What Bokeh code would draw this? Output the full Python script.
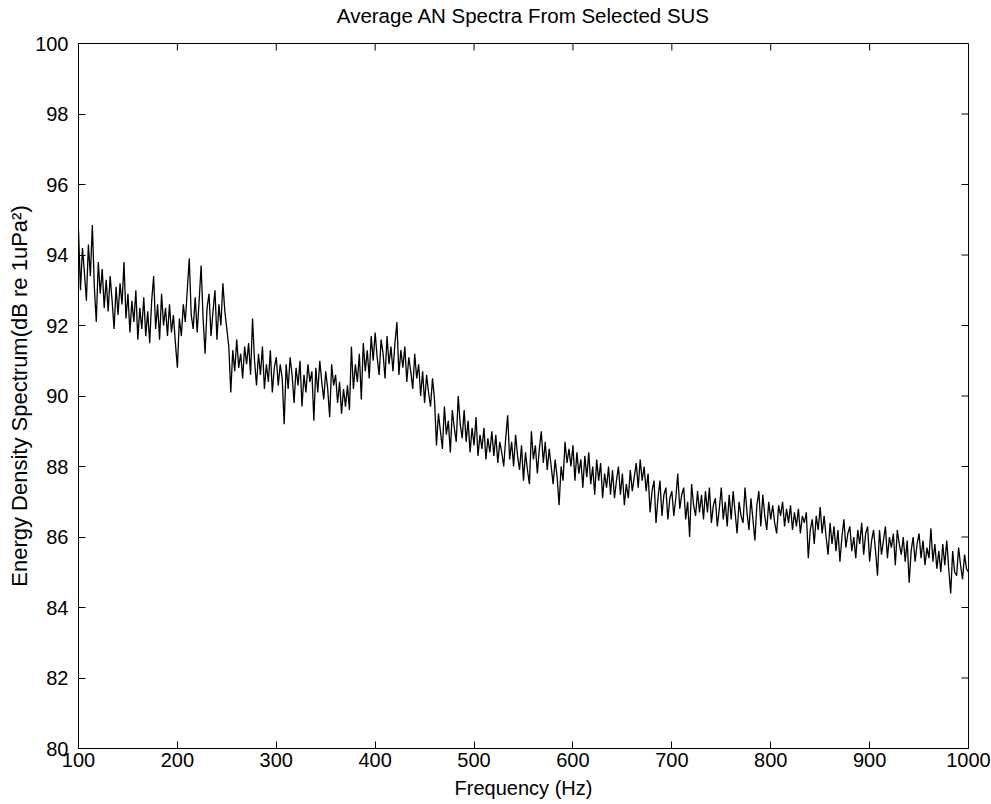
from bokeh.plotting import figure
from bokeh.models import FixedTicker, Range1d
from bokeh.embed import file_html
from bokeh.resources import INLINE

# ---- data (2 Hz steps) ----
freq_hz = list(range(100, 1001, 2))
energy_db = [
    94.7, 93.0, 94.2, 93.5, 92.7, 94.3, 93.4, 94.85, 93.1, 92.1, 93.8, 92.9, 93.6, 92.5, 93.3,
    92.4, 93.4, 92.7, 91.9, 93.1, 92.3, 93.2, 92.6, 93.8, 92.2, 92.9, 91.8, 92.7, 92.1, 93.0,
    91.6, 92.5, 91.9, 92.8, 91.7, 92.4, 91.5, 92.7, 93.4, 91.9, 92.6, 91.6, 92.9, 92.0, 92.5,
    91.7, 92.6, 91.8, 92.3, 91.5, 90.8, 92.2, 91.7, 92.6, 92.1, 93.0, 93.9, 92.3, 91.9, 92.8,
    91.8, 92.7, 93.7, 92.2, 91.2, 92.5, 92.9, 91.7, 92.4, 93.0, 91.6, 92.6, 92.0, 93.2, 92.4,
    91.9, 91.4, 90.1, 91.3, 90.7, 91.6, 90.8, 91.2, 90.5, 91.4, 90.9, 91.5, 90.6, 92.2, 91.0,
    90.3, 91.2, 90.6, 91.4, 90.2, 90.9, 90.4, 91.3, 90.1, 90.8, 91.1, 90.3, 90.9, 90.5, 89.2,
    90.9, 90.2, 91.1, 90.6, 89.8, 90.8, 90.3, 91.0, 89.7, 90.6, 90.1, 90.9, 90.4, 90.7, 89.3,
    90.8, 90.1, 91.0, 90.4, 89.9, 90.7, 90.2, 89.4, 90.9, 90.3, 90.6, 89.8, 90.4, 89.5, 90.2,
    89.7, 90.3, 89.6, 91.4, 90.2, 90.9, 90.4, 91.2, 89.9, 91.5, 90.7, 91.3, 90.5, 91.7, 91.0,
    91.8, 91.1, 90.6, 91.6, 91.2, 90.5, 91.7, 90.9, 91.4, 90.7, 91.5, 92.1, 90.6, 91.3, 90.8,
    91.4, 90.4, 91.1, 90.7, 90.2, 91.2, 90.5, 90.9, 90.0, 90.7, 89.8, 90.6, 90.1, 89.7, 90.5,
    89.9, 88.6, 89.5, 89.0, 88.5, 89.7, 88.9, 89.3, 88.4, 89.6, 89.1, 88.7, 90.0, 89.2, 88.8,
    89.6, 88.7, 89.3, 88.4, 89.1, 88.6, 89.4, 88.3, 88.9, 88.5, 89.1, 88.2, 88.8, 88.4, 89.0,
    88.3, 88.9, 88.1, 88.7, 88.4, 88.0, 88.8, 89.45, 88.2, 88.7, 88.0, 88.9, 88.3, 87.9, 88.6,
    87.6, 88.4, 87.9, 87.5, 89.0, 88.2, 88.6, 87.8, 88.5, 89.0, 88.1, 88.7, 87.9, 88.5, 88.0,
    87.5, 88.2, 87.7, 86.9, 88.0, 87.6, 88.7, 88.1, 88.5, 88.0, 88.6, 87.6, 88.4, 87.8, 88.2,
    87.4, 88.3, 87.7, 88.4, 87.5, 88.0, 87.2, 88.2, 87.6, 88.1, 87.1, 87.8, 87.4, 88.0, 87.2,
    87.9, 87.1, 87.6, 88.0, 87.2, 87.8, 86.9, 87.5, 87.1, 87.9, 87.3, 87.7, 88.1, 87.4, 88.2,
    87.6, 88.0, 87.3, 87.8, 86.7, 87.3, 87.6, 86.4, 87.1, 87.6, 86.6, 87.2, 87.4, 86.5, 87.1,
    87.3, 86.6, 87.1, 87.8, 86.8, 87.2, 87.4, 86.5, 87.0, 86.0, 87.5, 86.9, 86.6, 87.3, 86.7,
    87.2, 86.5, 87.3, 86.7, 87.4, 86.4, 86.9, 87.1, 86.3, 86.8, 87.4, 86.5, 87.0, 86.3, 87.2,
    86.5, 87.3, 86.7, 86.1, 87.0, 86.6, 86.4, 87.4, 86.7, 86.2, 87.1, 86.5, 85.9, 86.9, 87.3,
    86.3, 87.2, 86.6, 86.2, 87.0, 86.5, 86.9, 86.4, 86.1, 86.9, 86.6, 87.0, 86.3, 86.8, 86.4,
    86.9, 86.2, 86.7, 86.3, 86.8, 86.1, 86.6, 86.4, 86.7, 85.4, 86.2, 86.5, 85.8, 86.6, 86.2,
    86.85, 86.1, 86.6, 86.0, 85.5, 86.4, 85.8, 86.3, 85.6, 86.2, 85.3, 86.0, 86.5, 85.7, 86.1,
    86.3, 85.6, 86.0, 85.4, 86.2, 85.8, 86.4, 85.5, 86.1, 86.3, 85.3, 85.9, 86.2, 85.6, 84.9,
    86.2, 85.5, 85.9, 86.3, 85.4, 86.0, 85.7, 86.1, 85.2, 86.2, 85.8, 85.5, 86.0, 85.3, 85.9,
    84.7, 85.6, 86.0, 85.3, 85.8, 86.1, 85.4, 85.9, 85.2, 85.7, 85.4, 86.25, 85.3, 85.8, 85.1,
    85.6, 85.0, 85.8, 85.2, 85.9, 85.1, 84.4, 85.6, 85.0, 84.9, 85.7, 85.2, 84.8, 85.5, 85.1,
    85.0,
]
x_ticks = [100, 200, 300, 400, 500, 600, 700, 800, 900, 1000]
y_ticks = [80, 82, 84, 86, 88, 90, 92, 94, 96, 98, 100]
x_min, x_max = 100, 1000
y_min, y_max = 80, 100

title_text = "Average AN Spectra From Selected SUS"
x_label = "Frequency (Hz)"
y_label = "Energy Density Spectrum(dB re 1uPa\u00b2)"

FONT = "Liberation Sans"

W, H = 991, 804
BL, BR, BT, BB = 78, 23, 43, 56
frame_w = W - BL - BR
frame_h = H - BT - BB

p = figure(width=W, height=H, output_backend="svg", toolbar_location=None,
           x_range=Range1d(x_min, x_max), y_range=Range1d(y_min, y_max),
           min_border_left=BL, min_border_right=BR, min_border_top=BT,
           min_border_bottom=BB, title=title_text)

p.title.text_font = FONT
p.title.text_font_size = "20.5px"
p.title.text_font_style = "normal"
p.title.align = "center"
p.title.text_color = "black"
p.title.standoff = 0
p.title.padding = dict(top=0, right=0, bottom=17, left=0)

p.grid.visible = False
p.outline_line_color = "black"
p.outline_line_width = 1
p.background_fill_color = "white"
p.border_fill_color = "white"

p.line(freq_hz, energy_db, line_color="black", line_width=1.3)

TICK = 7
for ax in (p.xaxis[0], p.yaxis[0]):
    ax.major_tick_in = TICK
    ax.major_tick_out = 0
    ax.minor_tick_in = 0
    ax.minor_tick_out = 0
    ax.axis_line_color = "black"
    ax.major_tick_line_color = "black"
    ax.major_label_text_font = FONT
    ax.major_label_text_font_size = "20px"
    ax.major_label_text_color = "black"
    ax.axis_label_text_font = FONT
    ax.axis_label_text_font_style = "normal"
    ax.axis_label_text_color = "black"

p.xaxis[0].ticker = FixedTicker(ticks=x_ticks)
p.yaxis[0].ticker = FixedTicker(ticks=y_ticks)
p.xaxis[0].axis_label = x_label
p.yaxis[0].axis_label = y_label
p.xaxis[0].axis_label_text_font_size = "20px"
p.yaxis[0].axis_label_text_font_size = "22px"
p.xaxis[0].major_label_standoff = 4
p.xaxis[0].axis_label_standoff = 7
p.yaxis[0].major_label_standoff = 10
p.yaxis[0].axis_label_standoff = 0

# mirrored inward tick marks on top and right edges (MATLAB box style)
dx = (x_max - x_min) * TICK / frame_w
dy = (y_max - y_min) * TICK / frame_h
p.segment(x0=x_ticks, y0=[y_max] * len(x_ticks), x1=x_ticks,
          y1=[y_max - dy] * len(x_ticks), line_color="black", line_width=1)
p.segment(x0=[x_max] * len(y_ticks), y0=y_ticks, x1=[x_max - dx] * len(y_ticks),
          y1=y_ticks, line_color="black", line_width=1)

open("out.html", "w").write(file_html(p, INLINE))
